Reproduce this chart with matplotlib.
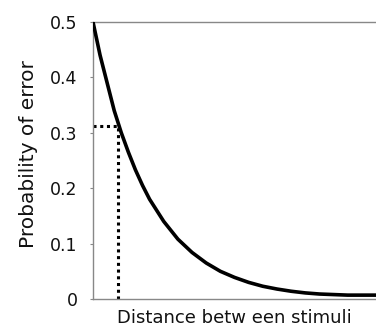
import matplotlib
matplotlib.use("Agg")
import matplotlib.pyplot as plt

# Data (distance in arbitrary units)
distance = [0, 0.25, 0.5, 0.75, 1.0, 1.25, 1.5, 1.75, 2.0, 2.5, 3.0, 3.5, 4.0, 4.5,
            5.0, 5.5, 6.0, 6.5, 7.0, 7.5, 8.0, 8.5, 9.0, 9.5, 10.0, 10.5]
prob_error = [0.5, 0.44, 0.39, 0.34, 0.30, 0.265, 0.233, 0.205, 0.18, 0.14, 0.108,
              0.084, 0.065, 0.05, 0.039, 0.030, 0.023, 0.018, 0.014, 0.011, 0.009,
              0.008, 0.007, 0.007, 0.007, 0.007]
marker_distance = [0.89]
marker_prob = [0.313]
yticks = [0, 0.1, 0.2, 0.3, 0.4, 0.5]
yticklabels = ["0", "0.1", "0.2", "0.3", "0.4", "0.5"]

fig = plt.figure(figsize=(3.76, 3.31), dpi=100)
ax = fig.add_axes([93/376, 1-299/331, 1-93/376, (299-22)/331])

ax.plot(distance, prob_error, color="black", lw=2.6, solid_capstyle="butt", zorder=3)
md, mp = marker_distance[0], marker_prob[0]
ax.plot([0, md], [mp, mp], color="black", lw=2.2, linestyle=(0, (1, 1.2)), zorder=2)
ax.plot([md, md], [0, mp], color="black", lw=2.2, linestyle=(0, (1, 1.2)), zorder=2)

ax.set_xlim(0, 10)
ax.set_ylim(0, 0.5)
ax.set_yticks(yticks)
ax.set_yticklabels(yticklabels)
ax.set_xticks([])

for s in ["left", "bottom", "top"]:
    ax.spines[s].set_color("#888888")
    ax.spines[s].set_linewidth(1.0)
ax.spines["right"].set_visible(False)
ax.tick_params(axis="y", length=2, color="#888888", labelsize=12.5, pad=9,
               labelcolor="#111111")

ax.set_ylabel("Probability of error", fontsize=14.5, color="#111111")
ax.yaxis.set_label_coords(-0.193, 0.523)
ax.set_xlabel("Distance betw een stimuli", fontsize=13, labelpad=7, color="#111111")

fig.savefig("out.png", dpi=100)
